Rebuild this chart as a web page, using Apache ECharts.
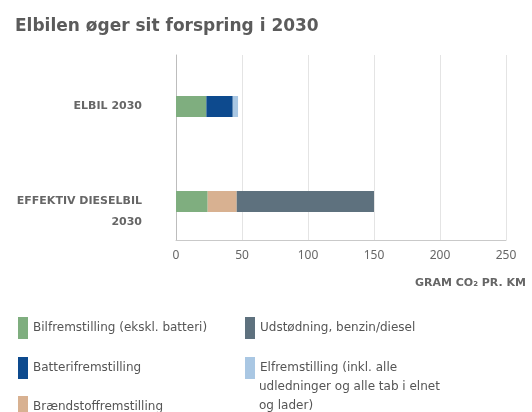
<!DOCTYPE html>
<html>
<head>
<meta charset="utf-8">
<script src="https://cdn.jsdelivr.net/npm/echarts@6/dist/echarts.min.js"></script>
<style>
html,body{margin:0;padding:0;background:#fff;}
#chart{width:532px;height:412px;}
</style>
</head>
<body>
<div id="chart"></div>
<script>
// ---- data ----
const categories = ['ELBIL 2030', 'EFFEKTIV DIESELBIL 2030'];
const seriesNames = [
  'Bilfremstilling (ekskl. batteri)',
  'Batterifremstilling',
  'Brændstoffremstilling',
  'Udstødning, benzin/diesel',
  'Elfremstilling (inkl. alle udledninger og alle tab i elnet og lader)'
];
const bilfremstilling = [23, 24];
const batterifremstilling = [20, 0];
const braendstoffremstilling = [0, 22];
const udstoedning = [0, 104];
const elfremstilling = [4, 0];
const xTicks = [0, 50, 100, 150, 200, 250];
const titleText = 'Elbilen øger sit forspring i 2030';
const axisTitle = 'GRAM CO₂ PR. KM';
const elContinuation = 'udledninger og alle tab i elnet\nog lader)';

const colors = ['#7fae7f', '#0d4a8e', '#d8b191', '#5e717e', '#a9c7e3'];
const values = [bilfremstilling, batterifremstilling, braendstoffremstilling, udstoedning, elfremstilling];
const FONT = 'DejaVu Sans';

const chart = echarts.init(document.getElementById('chart'), null, {renderer: 'canvas'});

const series = seriesNames.map((n, i) => ({
  name: n,
  type: 'bar',
  stack: 'total',
  xAxisIndex: 1,
  yAxisIndex: 1,
  barWidth: 21,
  itemStyle: {color: colors[i]},
  data: values[i]
}));

const legendText = {fontFamily: FONT, fontSize: 12, color: '#555'};
function legendFmt(name) {
  if (name.indexOf('Elfremstilling') === 0) return 'Elfremstilling (inkl. alle';
  return name;
}

chart.setOption({
  animation: false,
  backgroundColor: '#ffffff',
  title: {
    text: titleText,
    left: 10,
    top: 13,
    textStyle: {fontFamily: FONT, fontSize: 17, fontWeight: 'bold', color: '#5b5b5b'}
  },
  grid: [
    {left: 176, right: 26, top: 55, bottom: 172},
    {left: 176, right: 26, top: 59, bottom: 163}
  ],
  xAxis: [
    {
      type: 'value', gridIndex: 0, min: xTicks[0], max: xTicks[xTicks.length - 1], interval: 50,
      axisLine: {show: true, lineStyle: {color: '#c9c9c9', width: 1}},
      axisTick: {show: false},
      splitLine: {show: true, lineStyle: {color: '#e4e4e4', width: 1}},
      axisLabel: {fontFamily: 'Noto Sans', fontSize: 12, color: '#666', margin: 10}
    },
    {
      type: 'value', gridIndex: 1, min: xTicks[0], max: xTicks[xTicks.length - 1], interval: 50,
      show: false
    }
  ],
  yAxis: [
    {
      type: 'category', gridIndex: 0, data: categories, inverse: true,
      axisLine: {show: true, lineStyle: {color: '#bdbdbd', width: 1}},
      axisTick: {show: false},
      axisLabel: {show: false},
      splitLine: {show: false}
    },
    {
      type: 'category', gridIndex: 1, data: categories, inverse: true,
      axisLine: {show: false},
      axisTick: {show: false},
      axisLabel: {
        fontFamily: FONT, fontSize: 11, fontWeight: 'bold', color: '#666',
        margin: 34, lineHeight: 21, align: 'right',
        formatter: function (v) {
          if (v.length > 14) {
            const k = v.lastIndexOf(' ');
            return '\n' + v.slice(0, k) + '\n' + v.slice(k + 1);
          }
          return v;
        }
      }
    }
  ],
  legend: [
    {
      data: [seriesNames[0], seriesNames[1]],
      orient: 'vertical', left: 13, top: 312, itemGap: 18,
      itemWidth: 10, itemHeight: 22, icon: 'rect',
      textStyle: legendText, formatter: legendFmt, selectedMode: false
    },
    {
      data: [seriesNames[2]],
      orient: 'vertical', left: 13, top: 391,
      itemWidth: 10, itemHeight: 22, icon: 'rect',
      textStyle: legendText, formatter: legendFmt, selectedMode: false
    },
    {
      data: [seriesNames[3], seriesNames[4]],
      orient: 'vertical', left: 240, top: 312, itemGap: 18,
      itemWidth: 10, itemHeight: 22, icon: 'rect',
      textStyle: legendText, formatter: legendFmt, selectedMode: false
    }
  ],
  graphic: [
    {
      type: 'text', right: 6, top: 278,
      style: {text: axisTitle, font: 'bold 11px "DejaVu Sans"', fill: '#666'}
    },
    {
      type: 'text', left: 259, top: 377,
      style: {text: elContinuation, font: '12px "DejaVu Sans"', fill: '#555', lineHeight: 19}
    }
  ],
  series: series
});
</script>
</body>
</html>
